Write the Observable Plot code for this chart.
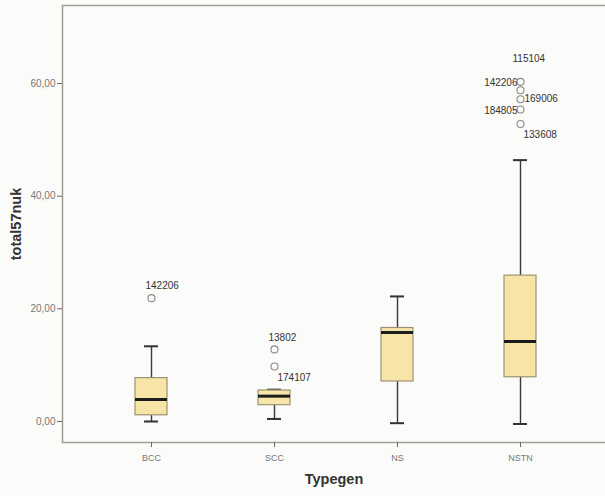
<!DOCTYPE html>
<html>
<head>
<meta charset="utf-8">
<script src="https://cdn.jsdelivr.net/npm/d3@7"></script>
<script src="https://cdn.jsdelivr.net/npm/@observablehq/plot@0.6"></script>
<style>
  html, body { margin: 0; padding: 0; background: #fbfbfa; overflow: hidden; }
  #chart { width: 605px; overflow: hidden; }
  #chart svg { display: block; max-width: none; }
</style>
</head>
<body>
<div id="chart"></div>
<script>
// Box plot summaries of total57nuk per Typegen group
const categories   = ["BCC", "SCC", "NS", "NSTN"];
const lowerWhisker = [0.0, 0.45, -0.3, -0.45];
const q1           = [1.1, 2.9, 7.1, 7.85];
const median       = [3.9, 4.5, 15.8, 14.2];
const q3           = [7.7, 5.5, 16.6, 25.9];
const upperWhisker = [13.35, 5.65, 22.2, 46.4];

// Outlying cases with their case labels
const outlierCats   = ["BCC", "SCC", "SCC", "NSTN", "NSTN", "NSTN", "NSTN", "NSTN"];
const outlierValues = [21.9, 12.8, 9.75, 60.3, 58.8, 57.2, 55.4, 52.8];
const outlierIds    = ["142206", "13802", "174107", "142206", "115104", "169006", "184805", "133608"];

const yTicks = [0, 20, 40, 60];
const yDomain = [-3.73, 73.85];

const stats = categories.map((cat, i) => ({
  cat, lo: lowerWhisker[i], q1: q1[i], med: median[i], q3: q3[i], hi: upperWhisker[i]
}));
const outliers = outlierCats.map((cat, i) => ({cat, value: outlierValues[i], id: outlierIds[i]}));

// where each case label sits relative to its circle
const labelSide = {
  "BCC-142206": "above", "SCC-13802": "above", "SCC-174107": "belowRight",
  "NSTN-142206": "left", "NSTN-115104": "high", "NSTN-169006": "right",
  "NSTN-184805": "left", "NSTN-133608": "belowRight"
};
const sideStyle = {
  above:      {textAnchor: "start", dx: -6, dy: -12},
  belowRight: {textAnchor: "start", dx: 3,  dy: 11},
  left:       {textAnchor: "end",   dx: -3, dy: 1},
  right:      {textAnchor: "start", dx: 4,  dy: 0},
  high:       {textAnchor: "start", dx: -8, dy: -31}
};
const labelMarks = Object.entries(sideStyle).map(([side, style]) =>
  Plot.text(outliers.filter(d => labelSide[`${d.cat}-${d.id}`] === side), {
    x: "cat", y: "value", text: "id", fontSize: 10, fill: "#333",
    fontFamily: "Liberation Sans, Arial, sans-serif", ...style
  })
);

const fmt = d => d.toFixed(2).replace(".", ",");

// the plot area runs past the right edge of the 605px view, so its right border is cut off
const chart = Plot.plot({
  width: 615,
  height: 496,
  marginLeft: 62,
  marginRight: 0,
  marginTop: 5,
  marginBottom: 54,
  style: {background: "#fbfbfa", fontFamily: "Liberation Sans, Arial, sans-serif"},
  x: {type: "band", domain: categories, range: [89.35, 582.55], paddingInner: 0.74, paddingOuter: 0.37},
  y: {domain: yDomain},
  marks: [
    Plot.frame({stroke: "#a39c94", strokeWidth: 1.5}),
    Plot.axisY({ticks: yTicks, tickFormat: fmt, tickSize: 5, tickPadding: 2, fontSize: 10,
      stroke: "#666", fill: "#777", label: null}),
    Plot.axisX({tickSize: 5, tickPadding: 7, fontSize: 9, stroke: "#666", fill: "#777", label: null}),
    // whiskers
    Plot.ruleX(stats, {x: "cat", y1: "lo", y2: "q1", stroke: "#3a3a3a", strokeWidth: 1.4}),
    Plot.ruleX(stats, {x: "cat", y1: "q3", y2: "hi", stroke: "#3a3a3a", strokeWidth: 1.4}),
    Plot.tickY(stats, {x: "cat", y: "lo", stroke: "#333", strokeWidth: 2, insetLeft: 9, insetRight: 9}),
    Plot.tickY(stats, {x: "cat", y: "hi", stroke: "#333", strokeWidth: 2, insetLeft: 9, insetRight: 9}),
    // boxes
    Plot.barY(stats, {x: "cat", y1: "q1", y2: "q3", fill: "#f6e5a6", stroke: "#9c9273", strokeWidth: 1.2}),
    Plot.tickY(stats, {x: "cat", y: "med", stroke: "#1c1c1c", strokeWidth: 3}),
    // outliers
    Plot.dot(outliers, {x: "cat", y: "value", r: 3.5, stroke: "#8a8a8a", strokeWidth: 1.1, fill: "none"}),
    ...labelMarks,
    // axis titles
    Plot.text(["Typegen"], {frameAnchor: "bottom", dx: -5, dy: 41, fontSize: 14.5, fontWeight: "bold", fill: "#333"}),
    Plot.text(["total57nuk"], {frameAnchor: "left", textAnchor: "middle", dx: -46, rotate: -90,
      fontSize: 14.5, fontWeight: "bold", fill: "#333"})
  ]
});
document.getElementById("chart").append(chart);
</script>
</body>
</html>
